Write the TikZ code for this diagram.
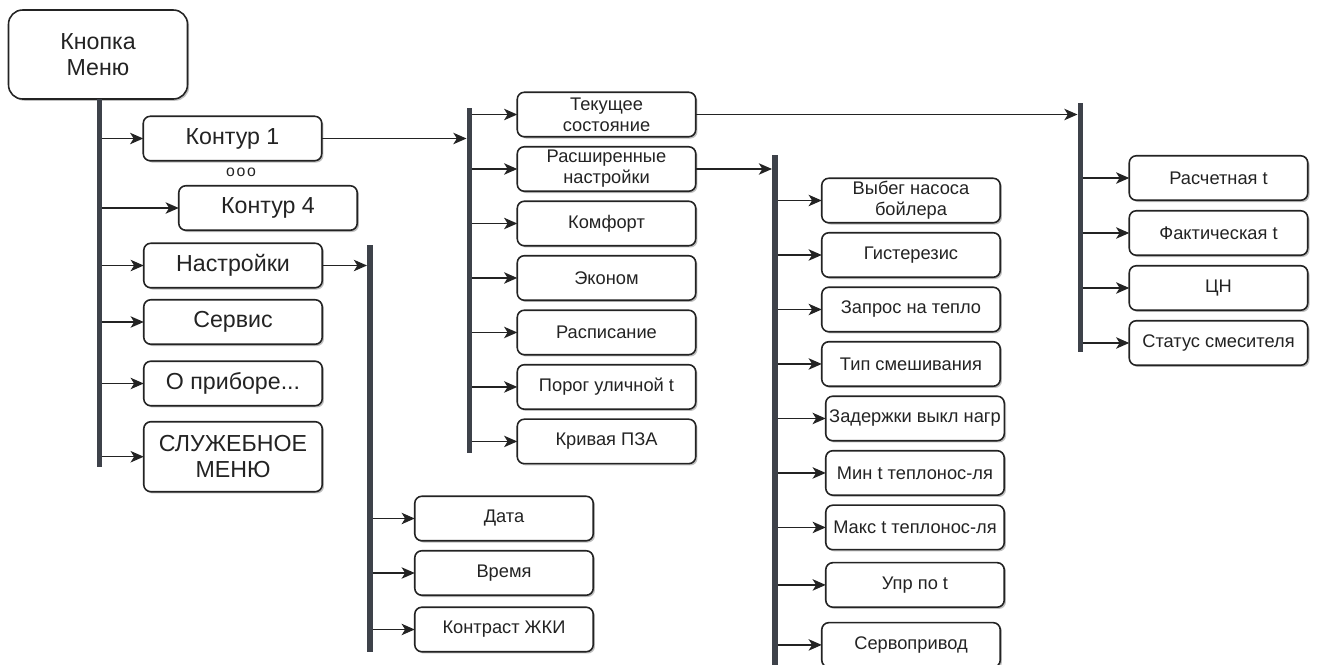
\documentclass[tikz,border=0pt]{standalone}
\usepackage{fontspec}
\setmainfont{Liberation Sans}
\usetikzlibrary{arrows.meta,shadows,positioning}
\definecolor{busgray}{RGB}{62,66,74}
\definecolor{inkgray}{RGB}{35,35,35}

\begin{document}
\begin{tikzpicture}[
    x=0.02cm, y=-0.02cm,
    box/.style={draw=inkgray, line width=0.9pt, rounded corners=4pt, fill=white, text=inkgray, align=center, minimum width=3.57cm, minimum height=0.89cm, inner xsep=2pt, inner ysep=1pt, outer sep=0pt, drop shadow={shadow xshift=1pt, shadow yshift=-1pt, fill=black, opacity=0.25}},
    big/.style={box, font=\fontsize{13.2}{15}\selectfont},
    small/.style={box, font=\fontsize{10.4}{12}\selectfont},
    arrow/.style={-{Stealth[length=7.5pt, width=6.5pt, inset=2pt]}, line width=0.8pt, draw=inkgray},
    feed/.style={arrow, shorten >=1.7pt},
    bus/.style={line width=3.4pt, draw=busgray},
    node distance=0.2cm
]
    \useasboundingbox (0,0) rectangle (1319,664);

    \node [big, rounded corners=8pt, minimum width=3.58cm, minimum height=1.78cm] (root) at (98,54.5) {Кнопка\\Меню};
    \node [big] (loop1) at (232.5,138.5) {Контур 1};
    \node [font=\fontsize{9}{9}\selectfont, text=inkgray] (dots) at (241,172) {о\kern1pt о\kern1pt о};
    \node [big] (loop4) at (268,208) {Контур 4};
    \node [big] (setup) at (233,265.5) {Настройки};
    \node [big, below=0.24cm of setup] (service) {Сервис};
    \node [big, below=0.34cm of service] (about) {О приборе...};
    \node [big, minimum height=1.4cm, below=0.32cm of about] (servmenu) {СЛУЖЕБНОЕ\\МЕНЮ};

    \node [small] (now) at (606.5,114.5) {Текущее\\состояние};
    \node [small, below=of now] (adv) {Расширенные\\настройки};
    \node [small, below=of adv] (comfort) {Комфорт};
    \node [small, below=of comfort] (econ) {Эконом};
    \node [small, below=of econ] (sched) {Расписание};
    \node [small, below=of sched] (street) {Порог уличной t};
    \node [small, below=of street] (curve) {Кривая ПЗА};

    \node [small] (date) at (504,518.5) {Дата};
    \node [small, below=of date] (clock) {Время};
    \node [small, below=0.24cm of clock] (contrast) {Контраст ЖКИ};

    \node [small] (overrun) at (911,200.5) {Выбег насоса\\бойлера};
    \node [small, below=of overrun] (hyst) {Гистерезис};
    \node [small, below=of hyst] (heatreq) {Запрос на тепло};
    \node [small, below=of heatreq] (mixtype) {Тип смешивания};
    \node [small, below=of mixtype, xshift=0.08cm] (offdelay) {Задержки выкл нагр};
    \node [small, below=of offdelay] (tmin) {Мин t теплонос-ля};
    \node [small, below=of tmin] (tmax) {Макс t теплонос-ля};
    \node [small, below=0.26cm of tmax] (tctrl) {Упр по t};
    \node [small, below=0.31cm of tctrl, xshift=-0.08cm] (servo) {Сервопривод};

    \node [small] (tcalc) at (1218.5,178) {Расчетная t};
    \node [small, below=0.21cm of tcalc] (tact) {Фактическая t};
    \node [small, below=0.21cm of tact] (pump) {ЦН};
    \node [small, below=0.21cm of pump] (mixstat) {Статус смесителя};

    \coordinate (bus1) at (99.5,99);
    \coordinate (bus1end) at (99.5,467);
    \coordinate (bus2) at (370,245);
    \coordinate (bus2end) at (370,652);
    \coordinate (bus3) at (469.5,108);
    \coordinate (bus3end) at (469.5,453);
    \coordinate (bus4) at (775,155);
    \coordinate (bus4end) at (775,670);
    \coordinate (bus5) at (1080.5,103);
    \coordinate (bus5end) at (1080.5,352);

    \draw [feed] (loop1.east) -- (loop1.east -| bus3);
    \draw [feed] (setup.east) -- (setup.east -| bus2);
    \draw [feed] (now.east) -- (now.east -| bus5);
    \draw [feed] (adv.east) -- (adv.east -| bus4);

    \draw [arrow] (loop1.west -| bus1) -- (loop1.west);
    \draw [arrow] (loop4.west -| bus1) -- (loop4.west);
    \draw [arrow] (setup.west -| bus1) -- (setup.west);
    \draw [arrow] (service.west -| bus1) -- (service.west);
    \draw [arrow] (about.west -| bus1) -- (about.west);
    \draw [arrow] (servmenu.west -| bus1) -- (servmenu.west);

    \draw [arrow] (date.west -| bus2) -- (date.west);
    \draw [arrow] (clock.west -| bus2) -- (clock.west);
    \draw [arrow] (contrast.west -| bus2) -- (contrast.west);

    \draw [arrow] (now.west -| bus3) -- (now.west);
    \draw [arrow] (adv.west -| bus3) -- (adv.west);
    \draw [arrow] (comfort.west -| bus3) -- (comfort.west);
    \draw [arrow] (econ.west -| bus3) -- (econ.west);
    \draw [arrow] (sched.west -| bus3) -- (sched.west);
    \draw [arrow] (street.west -| bus3) -- (street.west);
    \draw [arrow] (curve.west -| bus3) -- (curve.west);

    \draw [arrow] (overrun.west -| bus4) -- (overrun.west);
    \draw [arrow] (hyst.west -| bus4) -- (hyst.west);
    \draw [arrow] (heatreq.west -| bus4) -- (heatreq.west);
    \draw [arrow] (mixtype.west -| bus4) -- (mixtype.west);
    \draw [arrow] (offdelay.west -| bus4) -- (offdelay.west);
    \draw [arrow] (tmin.west -| bus4) -- (tmin.west);
    \draw [arrow] (tmax.west -| bus4) -- (tmax.west);
    \draw [arrow] (tctrl.west -| bus4) -- (tctrl.west);
    \draw [arrow] (servo.west -| bus4) -- (servo.west);

    \draw [arrow] (tcalc.west -| bus5) -- (tcalc.west);
    \draw [arrow] (tact.west -| bus5) -- (tact.west);
    \draw [arrow] (pump.west -| bus5) -- (pump.west);
    \draw [arrow] (mixstat.west -| bus5) -- (mixstat.west);

    \draw [bus] (bus1) -- (bus1end);
    \draw [bus] (bus2) -- (bus2end);
    \draw [bus] (bus3) -- (bus3end);
    \draw [bus] (bus4) -- (bus4end);
    \draw [bus] (bus5) -- (bus5end);

\end{tikzpicture}
\end{document}
